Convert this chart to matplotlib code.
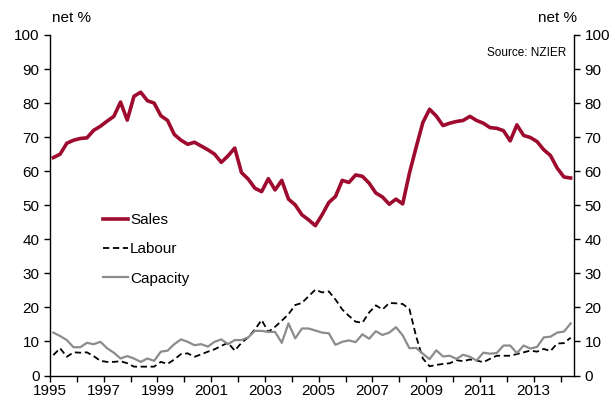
import numpy as np
import matplotlib.pyplot as plt

plt.rcParams['font.family'] = ['Liberation Sans', 'DejaVu Sans']

# quarterly, 1995Q1 - 2014Q2, net %
sales = [64.0, 65.0, 68.2, 69.1, 69.6, 69.8, 72.0, 73.2, 74.7, 76.1,
         80.3, 75.0, 82.0, 83.2, 80.7, 80.0, 76.3, 74.9, 70.8, 69.1,
         67.9, 68.5, 67.4, 66.3, 65.0, 62.6, 64.5, 66.8, 59.6, 57.7,
         55.0, 54.0, 57.8, 54.5, 57.3, 51.8, 50.1, 47.2, 45.7, 44.0,
         47.2, 50.8, 52.6, 57.3, 56.7, 58.9, 58.5, 56.5, 53.6, 52.4,
         50.3, 51.8, 50.4, 59.4, 67.0, 74.3, 78.2, 76.2, 73.4, 74.1,
         74.6, 74.9, 76.1, 74.9, 74.1, 72.8, 72.6, 71.9, 68.9, 73.6,
         70.5, 69.9, 68.7, 66.3, 64.6, 60.9, 58.3, 58.0]
labour = [6.0, 8.0, 5.5, 6.8, 6.7, 6.8, 5.7, 4.3, 4.0, 4.0,
          4.2, 3.6, 2.6, 2.6, 2.6, 2.6, 4.0, 3.4, 4.7, 6.3,
          6.5, 5.5, 6.2, 7.0, 7.7, 8.7, 9.6, 7.3, 9.6, 11.2,
          13.5, 16.3, 12.8, 14.3, 16.1, 18.0, 20.7, 21.3, 23.3, 25.2,
          24.4, 24.7, 22.3, 19.4, 17.5, 15.8, 15.5, 18.5, 20.6, 19.4,
          21.3, 21.2, 21.0, 19.5, 11.5, 5.0, 2.7, 3.1, 3.4, 3.6,
          4.5, 4.2, 4.7, 4.4, 3.9, 4.9, 5.8, 5.8, 5.8, 6.3,
          6.8, 7.3, 7.0, 7.8, 7.2, 9.4, 9.5, 11.1]
capacity = [12.6, 11.6, 10.4, 8.3, 8.3, 9.6, 9.2, 9.9, 8.0, 6.7,
            5.0, 5.7, 5.0, 4.0, 5.0, 4.3, 7.0, 7.3, 9.2, 10.6,
            9.9, 8.9, 9.2, 8.5, 9.9, 10.6, 9.2, 10.4, 10.4, 11.2,
            13.1, 13.1, 12.8, 12.8, 9.6, 15.3, 10.9, 13.8, 13.8, 13.2,
            12.6, 12.4, 9.0, 9.9, 10.3, 9.8, 12.1, 10.8, 13.0, 11.9,
            12.6, 14.2, 11.8, 8.0, 8.1, 6.4, 4.8, 7.4, 5.6, 5.8,
            4.9, 6.1, 5.5, 4.4, 6.7, 6.4, 6.6, 8.8, 8.8, 6.6,
            8.8, 7.9, 8.4, 11.2, 11.4, 12.6, 12.9, 15.3]
start_year = 1995
tick_years = list(range(1995, 2015))
label_years = list(range(1995, 2015, 2))

x = start_year + (np.arange(len(sales)) + 0.5) / 4

fig = plt.figure(figsize=(6.15, 4.01), dpi=100)
ax = fig.add_axes([50/615, 25.5/401, 524/615, 340.5/401])

ax.plot(x, sales, color='#9E0B2F', lw=2.6, label='Sales', solid_joinstyle='round')
ax.plot(x, labour, color='black', lw=1.3, ls=(0, (3.5, 2)), label='Labour')
ax.plot(x, capacity, color='#8C8C8C', lw=1.6, label='Capacity')

ax.set_xlim(1995, 2014.5)
ax.set_ylim(0, 100)
ax.set_xticks(tick_years)
ax.set_xticklabels([str(y) if y in label_years else '' for y in tick_years])
ax.set_yticks(range(0, 101, 10))

ax.spines['top'].set_visible(False)
for s in ['left', 'right', 'bottom']:
    ax.spines[s].set_linewidth(1.0)
ax.tick_params(axis='both', direction='out', length=4, width=1, labelsize=11,
               colors='black')
ax.tick_params(axis='y', right=True, labelright=True)
ax.tick_params(axis='x', pad=2)

fig.text(52/615, 1 - 18/401, 'net %', fontsize=11, va='center', ha='left')
fig.text(577/615, 1 - 18/401, 'net %', fontsize=11, va='center', ha='right')
ax.text(0.985, 0.965, 'Source: NZIER', transform=ax.transAxes, fontsize=8.5,
        ha='right', va='top')

leg = ax.legend(loc='upper left', bbox_to_anchor=(0.09, 0.495), frameon=False,
                fontsize=11, handlelength=1.65, handletextpad=0.1,
                labelspacing=1.0, borderaxespad=0)

fig.savefig('out.png', dpi=100)
